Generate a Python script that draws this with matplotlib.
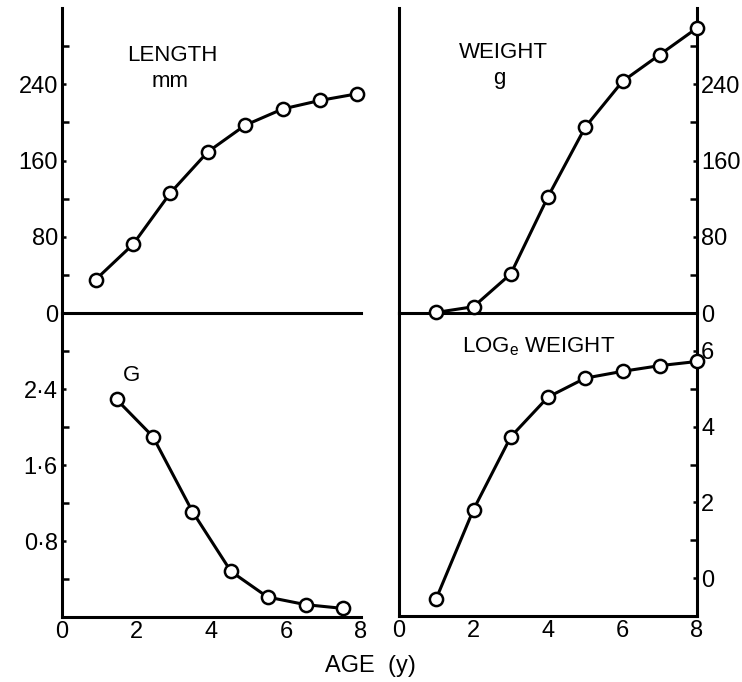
import matplotlib
matplotlib.use("Agg")
import matplotlib.pyplot as plt
from matplotlib.ticker import FixedLocator

plt.rcParams['font.family'] = ['Liberation Sans', 'DejaVu Sans']

# values
length_age = [0.9, 1.9, 2.9, 3.9, 4.9, 5.9, 6.9, 7.9]
length_mm = [35, 72, 126, 169, 197, 214, 223, 230]

weight_age = [1, 2, 3, 4, 5, 6, 7, 8]
weight_g = [0.6, 6.6, 41, 122, 195, 243, 271, 299]

g_age = [1.46, 2.43, 3.49, 4.52, 5.5, 6.52, 7.53]
g_values = [2.29, 1.90, 1.11, 0.48, 0.21, 0.13, 0.09]

logw_age = [1, 2, 3, 4, 5, 6, 7, 8]
logw = [-0.54, 1.81, 3.73, 4.78, 5.28, 5.46, 5.61, 5.72]

W, H = 742, 682
fig = plt.figure(figsize=(W / 100, H / 100), dpi=100)


def box(x0, y0, x1, y1):
    return [x0 / W, 1 - y1 / H, (x1 - x0) / W, (y1 - y0) / H]


ax_len = fig.add_axes(box(62, 8, 361, 313))
ax_g = fig.add_axes(box(62, 313, 361, 617))
ax_wt = fig.add_axes(box(399, 8, 697, 313))
ax_lw = fig.add_axes(box(399, 313, 697, 616))

lw = 2.2
style = dict(color='black', lw=lw, marker='o', ms=9.5, mfc='white',
             mec='black', mew=1.8, clip_on=False, zorder=5)
fs = 17

for ax in (ax_len, ax_g, ax_wt, ax_lw):
    ax.set_facecolor('none')
    ax.set_xlim(0, 8)
    for s in ax.spines.values():
        s.set_linewidth(lw)
    ax.spines['top'].set_visible(False)
    ax.tick_params(axis='x', length=0, labelsize=fs, pad=3)
    ax.tick_params(axis='y', which='both', direction='in', width=1.8,
                   labelsize=fs, pad=3)
    ax.tick_params(axis='y', which='major', length=3)
    ax.tick_params(axis='y', which='minor', length=5)
    ax.set_xticks([0, 2, 4, 6, 8])

# top panels: no x labels
for ax in (ax_len, ax_wt):
    ax.tick_params(axis='x', labelbottom=False)

# left panels
for ax in (ax_len, ax_g):
    ax.spines['right'].set_visible(False)

# right panels: axis on right, plain left line
for ax in (ax_wt, ax_lw):
    ax.yaxis.tick_right()

ax_len.plot(length_age, length_mm, **style)
ax_len.set_ylim(0, 320)
ax_len.set_yticks([0, 80, 160, 240])
ax_len.yaxis.set_minor_locator(FixedLocator([40, 120, 200, 280]))
ax_len.text(2.95, 270, 'LENGTH', ha='center', va='center', fontsize=16)
ax_len.text(2.9, 243, 'mm', ha='center', va='center', fontsize=16)

ax_wt.plot(weight_age, weight_g, **style)
ax_wt.set_ylim(0, 320)
ax_wt.set_yticks([0, 80, 160, 240])
ax_wt.yaxis.set_minor_locator(FixedLocator([40, 120, 200, 280]))
ax_wt.text(2.8, 273, 'WEIGHT', ha='center', va='center', fontsize=16)
ax_wt.text(2.7, 246, 'g', ha='center', va='center', fontsize=16)

ax_g.plot(g_age, g_values, **style)
ax_g.set_ylim(0, 3.2)
ax_g.set_yticks([0.8, 1.6, 2.4])
ax_g.set_yticklabels(['0\u00b78', '1\u00b76', '2\u00b74'])
ax_g.yaxis.set_minor_locator(FixedLocator([0.4, 1.2, 2.0, 2.8]))
ax_g.text(1.87, 2.54, 'G', ha='center', va='center', fontsize=16)

ax_lw.plot(logw_age, logw, **style)
ax_lw.set_ylim(-1, 7)
ax_lw.set_yticks([0, 2, 4, 6])
ax_lw.yaxis.set_minor_locator(FixedLocator([1, 3, 5]))
ax_lw.text(1.7, 6.1, 'LOG$_{\\mathregular{e}}$ WEIGHT', ha='left', va='center',
           fontsize=16)

fig.text(370 / W, 1 - 666 / H, 'AGE  (y)', ha='center', va='center', fontsize=17)

fig.savefig('out.png', dpi=100)
